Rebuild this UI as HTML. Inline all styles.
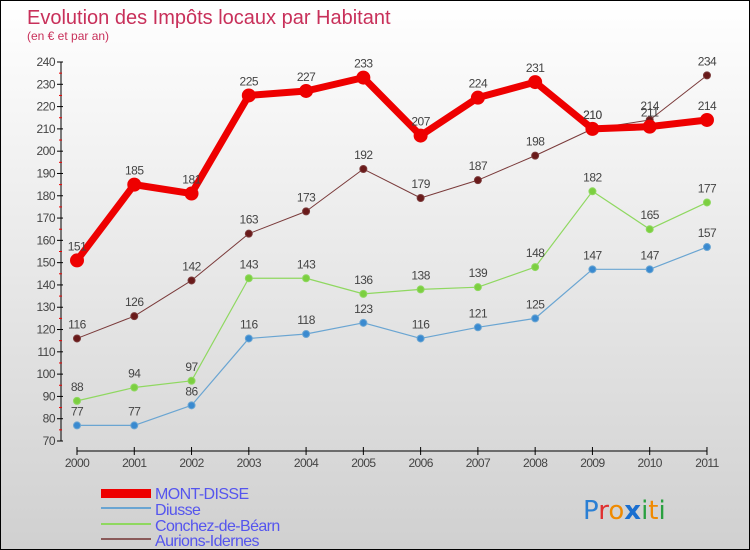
<!DOCTYPE html>
<html><head><meta charset="utf-8"><style>
body{margin:0}
#c{width:748px;height:548px;border:1px solid #000;background:linear-gradient(#fff,#d0d0d0);position:relative;overflow:hidden;font-family:"Liberation Sans",sans-serif}
</style></head><body>
<div id="c">
<svg id="s" width="748" height="548" font-family="'Liberation Sans',sans-serif">
<text x="26" y="23" font-size="20" fill="#c8305a">Evolution des Impôts locaux par Habitant</text>
<text x="26" y="39" font-size="12" fill="#c8305a">(en € et par an)</text>
<g id="axes"></g><g id="series"></g>
<g font-size="16" fill="#5555ee" letter-spacing="-0.6">
<rect x="100" y="488" width="50" height="9" fill="#e00"/>
<text x="154" y="498">MONT-DISSE</text>
<line x1="100" y1="507" x2="150" y2="507" stroke="#6aa5d2" stroke-width="2"/>
<text x="154" y="514">Diusse</text>
<line x1="100" y1="523" x2="150" y2="523" stroke="#8fd860" stroke-width="2"/>
<text x="154" y="530">Conchez-de-Béarn</text>
<line x1="100" y1="538" x2="150" y2="538" stroke="#8a5a5a" stroke-width="2"/>
<text x="154" y="545">Aurions-Idernes</text>
</g>
<text x="582" y="518" font-size="26" font-family="'DejaVu Sans',sans-serif"><tspan fill="#2a7fd4">P</tspan><tspan fill="#e03030">r</tspan><tspan fill="#f08a00">o</tspan><tspan fill="#1a6fd0" font-weight="bold">x</tspan><tspan fill="#2aa040">i</tspan><tspan fill="#f08a00">t</tspan><tspan fill="#2aa040">i</tspan></text>
</svg></div>
<script>
const years=[2000,2001,2002,2003,2004,2005,2006,2007,2008,2009,2010,2011];
const yTicks=[70,80,90,100,110,120,130,140,150,160,170,180,190,200,210,220,230,240];
const mont=[151,185,181,225,227,233,207,224,231,210,211,214];
const diusse=[77,77,86,116,118,123,116,121,125,147,147,157];
const conchez=[88,94,97,143,143,136,138,139,148,182,165,177];
const aurions=[116,126,142,163,173,192,179,187,198,210,214,234];
const NS="http://www.w3.org/2000/svg";
const X=i=>76+i*57.27, Y=v=>440-(v-70)*2.2294;
function mk(t,a,p){const e=document.createElementNS(NS,t);for(const k in a)e.setAttribute(k,a[k]);p.appendChild(e);return e;}
const ax=document.getElementById('axes');
let l=mk('line',{x1:60,y1:Y(240),x2:60,y2:440,stroke:'#000'},ax);


yTicks.forEach(v=>{mk('line',{x1:56,y1:Y(v),x2:62,y2:Y(v),stroke:'#000'},ax);
 if(v<240)mk('line',{x1:58,y1:Y(v+5),x2:61,y2:Y(v+5),stroke:'#e00'},ax);
 const t=mk('text',{x:54,y:Y(v)+4,'text-anchor':'end','font-size':12,fill:'#444','letter-spacing':'-0.5'},ax);t.textContent=v;
 
 });
l=mk('line',{x1:X(0),y1:450,x2:X(11),y2:450,stroke:'#000'},ax);


years.forEach((y,i)=>{mk('line',{x1:X(i),y1:446,x2:X(i),y2:454,stroke:'#000'},ax);
 const t=mk('text',{x:X(i),y:466,'text-anchor':'middle','font-size':12,fill:'#444','letter-spacing':'-0.6'},ax);t.textContent=y;
 
 });
const sg=document.getElementById('series');
function draw(name,vals,col,w,r,dot){
 const g=mk('g',{},sg);
 
 
 mk('polyline',{points:vals.map((v,i)=>X(i)+','+Y(v)).join(' '),fill:'none',stroke:col,'stroke-width':w,'stroke-linejoin':'round'},g);
 vals.forEach((v,i)=>{const c=mk('circle',{cx:X(i),cy:Y(v),r:r,fill:dot,stroke:col,'stroke-width':1},g);
  
  
  const t=mk('text',{x:X(i),y:Y(v)-10,'text-anchor':'middle','font-size':12,fill:'#444','letter-spacing':'-0.5'},g);t.textContent=v;
  
  });
}
draw('aurions',aurions,'#7a3a3a',1,3.5,'#6a1a1a');
draw('conchez',conchez,'#8fd860',1.2,3.5,'#7ccf40');
draw('diusse',diusse,'#6aa5d2',1.2,3.5,'#3a8ad0');
draw('mont-disse',mont,'#ee0000',7,6.5,'#ee0000');
</script></body></html>
